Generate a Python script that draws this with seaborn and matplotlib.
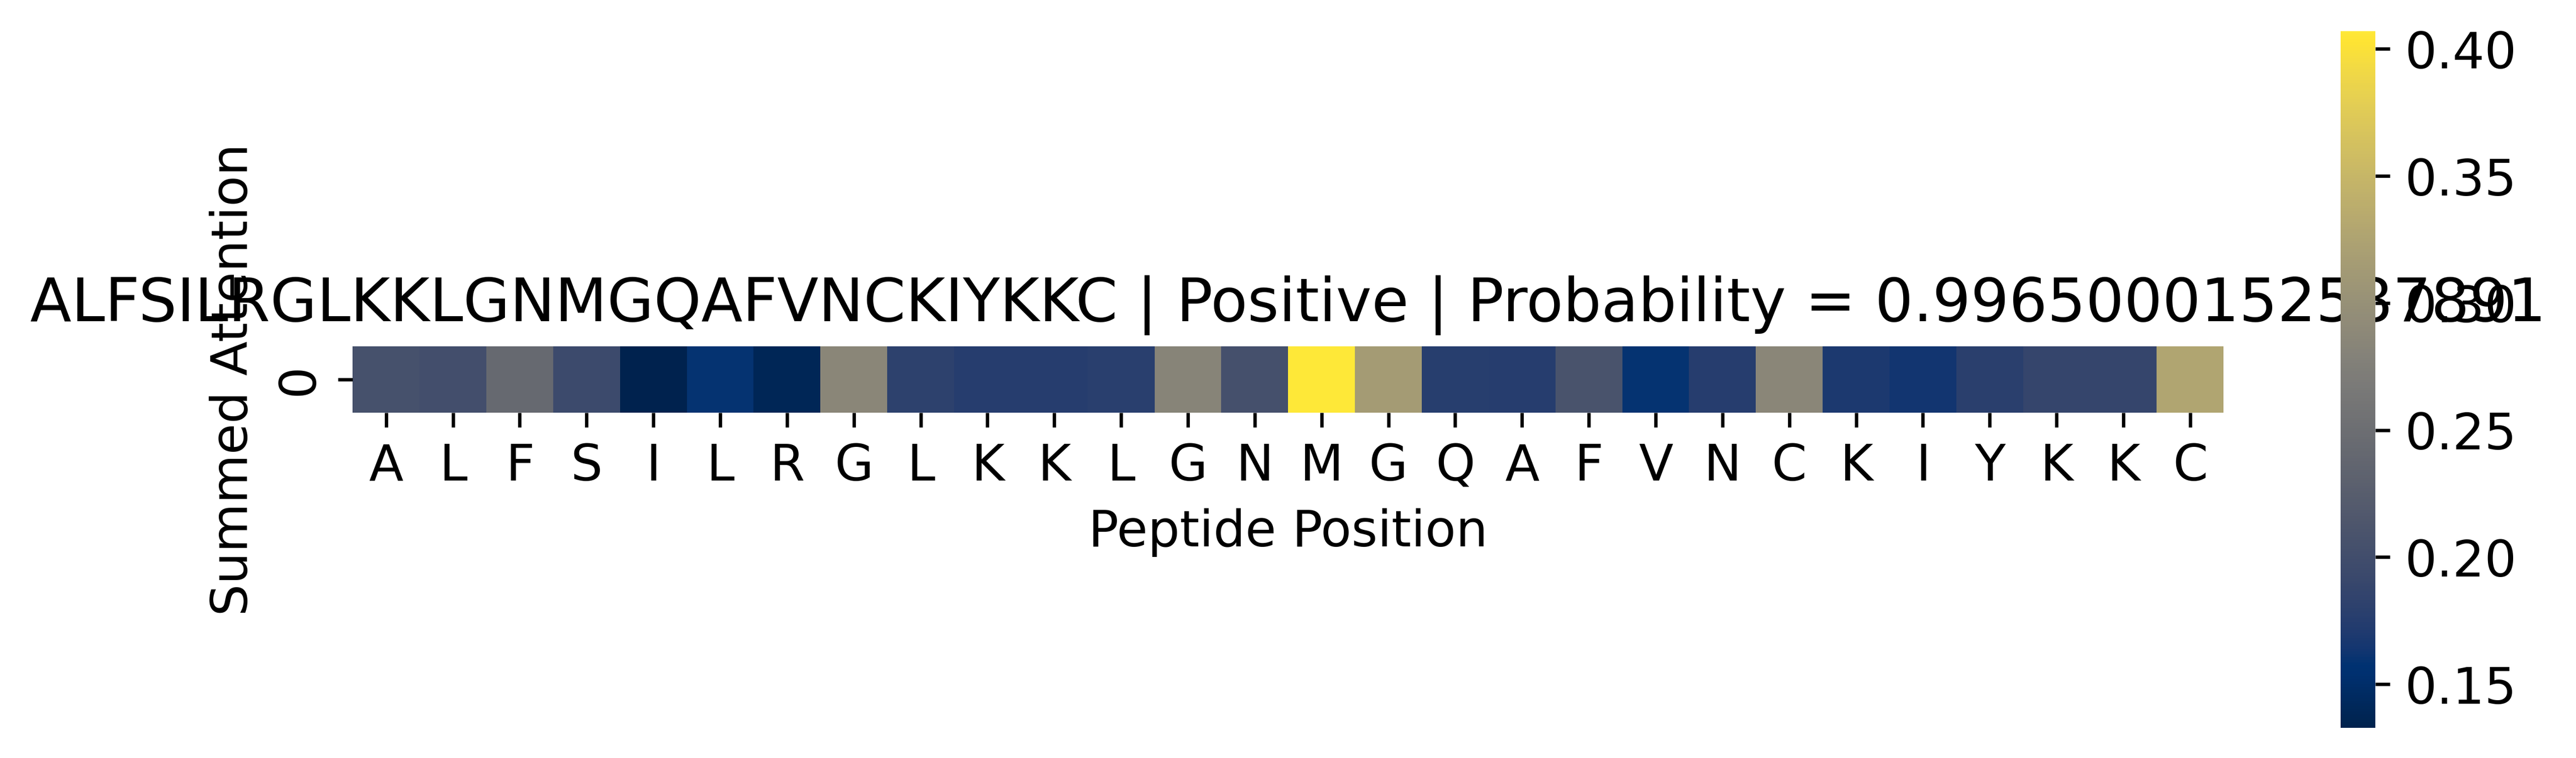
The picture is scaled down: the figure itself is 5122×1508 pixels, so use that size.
import numpy as np
import matplotlib.pyplot as plt
import seaborn as sns

plt.rcParams["font.size"] = 12

# peptide and model output
peptide = "ALFSILRGLKKLGNMGQAFVNCKIYKKC"
label = "Positive"
probability = 0.9965000152587891

# summed attention per residue
attention = [0.205, 0.202, 0.243, 0.194, 0.1328, 0.159, 0.139, 0.285,
             0.180, 0.175, 0.175, 0.177, 0.282, 0.204, 0.407, 0.314,
             0.176, 0.175, 0.208, 0.159, 0.175, 0.285, 0.169, 0.163,
             0.178, 0.188, 0.188, 0.327]

residues = list(peptide)

# plot the attention map
plt.figure(figsize=(10, 3))
ax = sns.heatmap(
    np.array([attention]),
    cmap="cividis",
    square=True,
    xticklabels=residues,
)

plt.title(f"{peptide} | {label} | Probability = {probability}")
plt.xlabel("Peptide Position")
plt.ylabel("Summed Attention")
plt.savefig("out.png", dpi=600, bbox_inches="tight")
